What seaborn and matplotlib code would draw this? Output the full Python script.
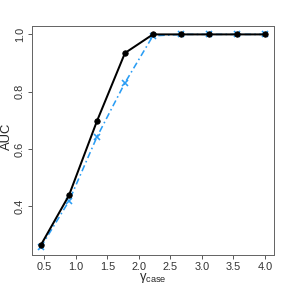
import numpy as np
import pandas as pd
import matplotlib
matplotlib.use("Agg")
import matplotlib.pyplot as plt
import seaborn as sns

# data
gamma_case = [0.444, 0.889, 1.333, 1.778, 2.222, 2.667, 3.111, 3.556, 4.0]
auc_black = [0.265, 0.438, 0.697, 0.935, 1.0, 1.0, 1.0, 1.0, 1.0]
auc_blue = [0.258, 0.418, 0.642, 0.831, 0.995, 1.0, 1.0, 1.0, 1.0]
x_ticks = [0.5, 1.0, 1.5, 2.0, 2.5, 3.0, 3.5, 4.0]
y_ticks = [0.4, 0.6, 0.8, 1.0]

sns.set_style("ticks")
plt.rcParams["font.family"] = ["Liberation Sans", "DejaVu Sans"]
plt.rcParams["mathtext.fontset"] = "custom"
plt.rcParams["mathtext.rm"] = "Liberation Sans"

df = pd.DataFrame({"gamma": gamma_case, "black": auc_black, "blue": auc_blue})

fig = plt.figure(figsize=(4, 4), dpi=72)
ax = fig.add_axes([0.111, 0.115, 0.840, 0.795])

blue = "#2a9df4"
sns.lineplot(data=df, x="gamma", y="blue", ax=ax, color=blue, lw=1.6,
             linestyle=(0, (4, 2, 1, 2)), marker="x", markersize=6,
             markeredgewidth=1.6, markeredgecolor=blue)
sns.lineplot(data=df, x="gamma", y="black", ax=ax, color="black", lw=2,
             marker="o", markersize=5.5, markeredgecolor="black")

ax.set_xlim(0.302, 4.142)
ax.set_ylim(0.2304, 1.0296)
ax.set_xticks(x_ticks)
ax.set_xticklabels([f"{v:.1f}" for v in x_ticks])
ax.set_yticks(y_ticks)
ax.set_yticklabels([f"{v:.1f}" for v in y_ticks], rotation=90, va="center")
ax.tick_params(labelsize=11, length=4, width=0.8, colors="#333333", pad=3)

for s in ax.spines.values():
    s.set_visible(True)
    s.set_color("#666666")
    s.set_linewidth(1)

ax.set_xlabel("γ$_\\mathregular{case}$", fontsize=13, labelpad=-1)
ax.set_ylabel("AUC", fontsize=13)
ax.yaxis.set_label_coords(-0.078, 0.52)

fig.savefig("out.png", dpi=72)
